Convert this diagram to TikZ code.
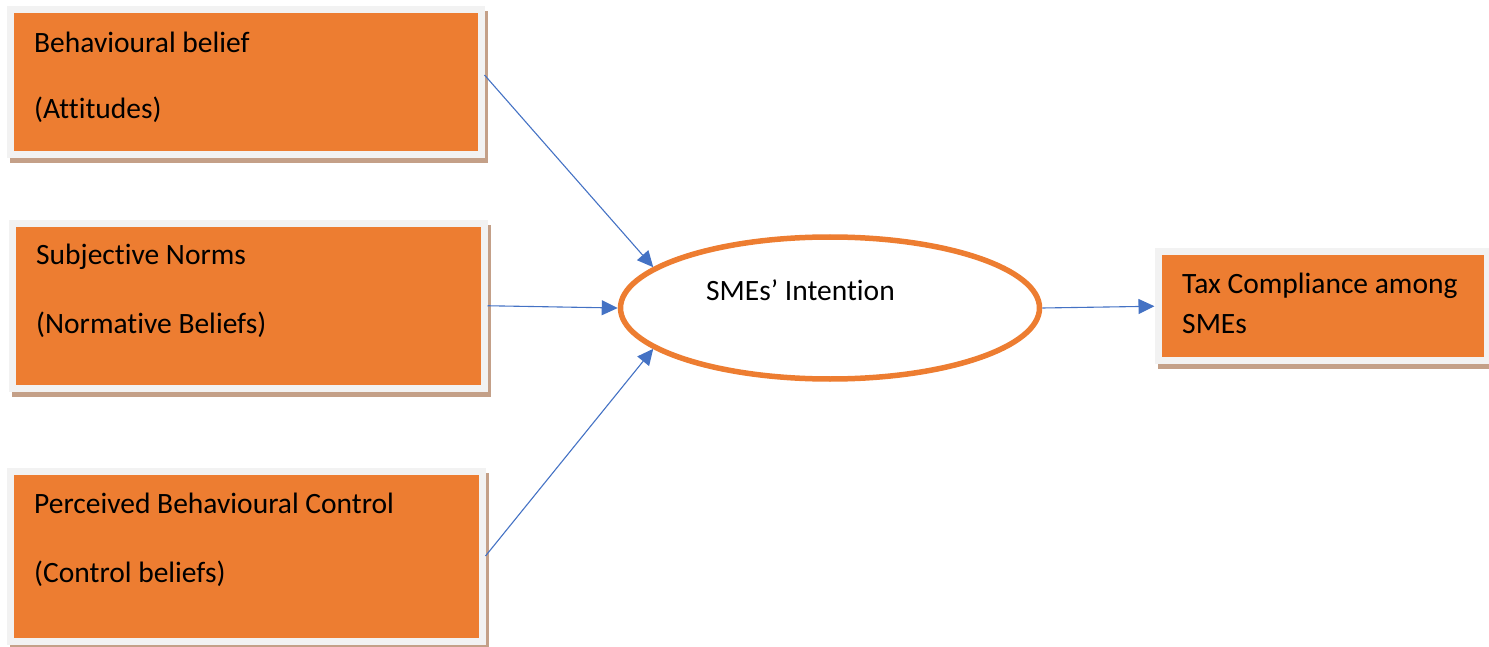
\documentclass[tikz,border=0pt]{standalone}
\usepackage{fontspec}
\setmainfont{Carlito}[Ligatures=CommonOff]
\usepackage{xcolor}
\usetikzlibrary{arrows.meta}
\usetikzlibrary{shapes.geometric}
\usetikzlibrary{shadows}
\definecolor{boxorange}{HTML}{ED7D31}
\definecolor{framegrey}{HTML}{F2F2F2}
\definecolor{shadowbrown}{HTML}{C4A088}
\definecolor{arrowblue}{HTML}{4472C4}

\begin{document}
\begin{tikzpicture}[x=1pt, y=-1pt]
        \tikzset{
          factor/.style={rectangle, draw=framegrey, fill=boxorange, line width=7pt, inner sep=0pt,
            drop shadow={shadow xshift=3pt, shadow yshift=-5pt, opacity=1, fill=shadowbrown, draw=shadowbrown, line width=7pt}},
          intent/.style={ellipse, draw=boxorange, fill=white, line width=5.5pt, inner sep=0pt},
          lbl/.style={draw=none, fill=none, inner sep=0pt, anchor=base west, font=\fontsize{29.5}{35}\selectfont},
          flow/.style={draw=arrowblue, line width=1.1pt, -{Triangle[length=16pt, width=15pt]}}
        }
        \useasboundingbox (0,0) rectangle (1489,647);

        % — the three belief boxes —
        \node[factor, minimum width=471pt, minimum height=145pt]   (b1) at (245.5,82)  {};
        \node[factor, minimum width=472pt, minimum height=164.5pt] (b2) at (248,305.75) {};
        \node[factor, minimum width=471.5pt, minimum height=170pt] (b3) at (246.25,556) {};
        \node[lbl] (t1a) at (34,53)  {Behavioural belief};
        \node[lbl] (t1b) at (34,119) {(Attitudes)};
        \node[lbl] (t2a) at (36,265) {Subjective Norms};
        \node[lbl] (t2b) at (36,333) {(Normative Beliefs)};
        \node[lbl] (t3a) at (34,513) {Perceived Behavioural Control};
        \node[lbl] (t3b) at (34,582) {(Control beliefs)};

        % — intention and outcome —
        \node[intent, minimum width=419pt, minimum height=142pt] (int) at (830,308) {};
        \node[lbl] (tint) at (706,300) {SMEs’ Intention};
        \node[factor, minimum width=329.5pt, minimum height=108.5pt] (b4) at (1322.75,306.25) {};
        \node[lbl] (t4a) at (1182,294) {Tax Compliance among};
        \node[lbl] (t4b) at (1182,333) {SMEs};

        % arrows: beliefs -> intention -> compliance
        \draw[flow] ([yshift=7pt]b1.east) -- (int.167);
        \draw[flow] (b2.east) -- (int.west);
        \draw[flow] (b3.east) -- (int.193);
        \draw[flow] (int.east) -- (b4.west);
\end{tikzpicture}
\end{document}
